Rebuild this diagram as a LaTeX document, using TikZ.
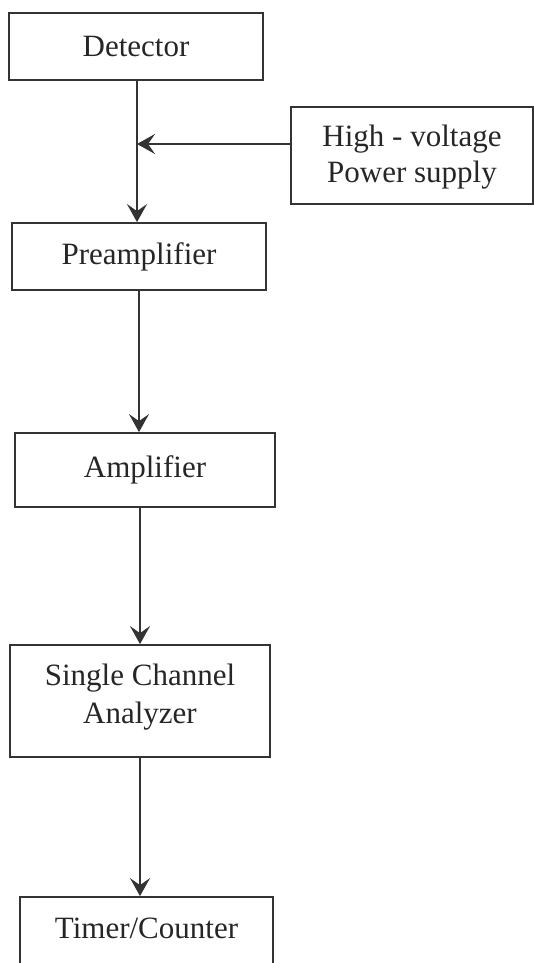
\documentclass[tikz,border=0pt]{standalone}
\usepackage{fontspec}
\setmainfont{Liberation Serif}
\usetikzlibrary{arrows.meta}
\definecolor{ink}{HTML}{333333}
\begin{document}
\begin{tikzpicture}[x=1pt,y=-1pt,
  blk/.style={draw=ink, line width=1.8pt, rectangle, inner sep=0pt, align=center,
    font=\fontsize{31}{37}\selectfont, text=black!85},
  lbl/.style={inner sep=0pt, align=center, font=\fontsize{31}{37}\selectfont, text=black!85},
  conn/.style={draw=ink, line width=1.8pt, -{Stealth[length=18pt,width=20pt,inset=7pt]}}]
\useasboundingbox (0,0) rectangle (534,963);
\begin{scope}
\clip (0,0) rectangle (534,963);
\node[blk, minimum width=254pt, minimum height=67pt] (det) at (136,46.5) {Detector};
\node[blk, minimum width=242pt, minimum height=97pt] (hv) at (412,155.5) {};
\node[lbl, font=\fontsize{31}{36}\selectfont] (hvt) at (412,157.5) {High - voltage\\Power supply};
\node[blk, minimum width=254pt, minimum height=67pt] (pre) at (139,256.5) {Preamplifier};
\node[blk, minimum width=260pt, minimum height=74pt] (amp) at (145,470) {Amplifier};
\node[blk, minimum width=260pt, minimum height=112pt] (sca) at (140,701) {};
\node[lbl, font=\fontsize{31}{38}\selectfont] (scat) at (140,697) {Single Channel\\Analyzer};
\node[blk, minimum width=253pt, minimum height=90pt] (tim) at (146.5,942) {};
\node[lbl, anchor=base] (timt) at (146.5,938) {Timer/Counter};
\coordinate (j) at (137,144);
\draw[conn] (det.south -| j) -- (pre.north -| j);
\draw[conn] (hv.west |- j) -- (j);
\draw[conn] (pre.south) -- (pre.south |- amp.north);
\draw[conn] (amp.south -| sca.north) -- (sca.north);
\draw[conn] (sca.south) -- (sca.south |- tim.north);
\end{scope}
\end{tikzpicture}
\end{document}
